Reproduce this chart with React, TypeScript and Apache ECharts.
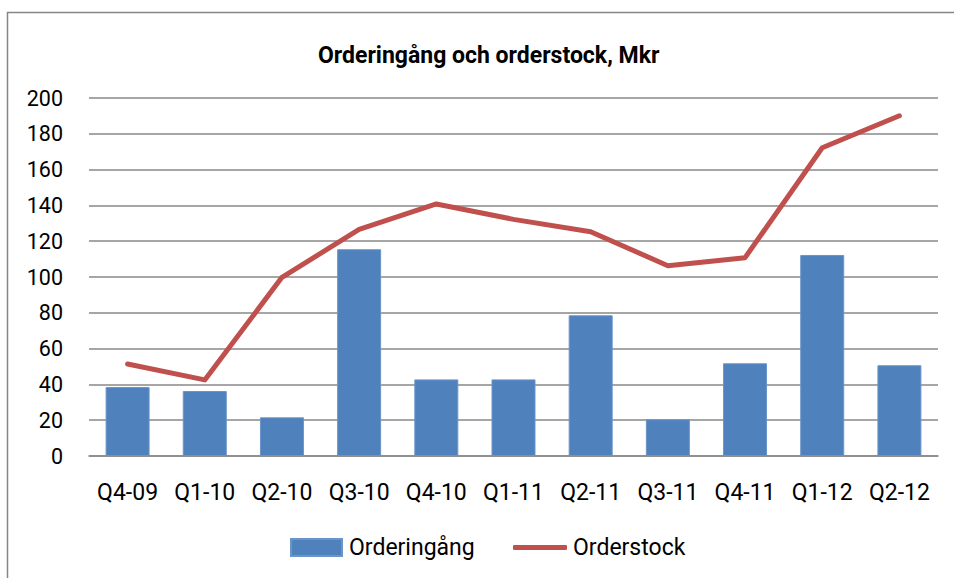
import React, { useEffect, useRef } from "react";
import * as echarts from "echarts";

const categories = ["Q4-09", "Q1-10", "Q2-10", "Q3-10", "Q4-10", "Q1-11", "Q2-11", "Q3-11", "Q4-11", "Q1-12", "Q2-12"];
const orderingang = [38.5, 36.3, 21.6, 115.5, 42.8, 42.8, 78.6, 20.5, 51.8, 112.3, 50.7];
const orderstock = [51.4, 42.5, 99.8, 126.6, 140.8, 132.2, 125.3, 106.3, 110.8, 172.2, 190.1];
const yTicks = { min: 0, max: 200, interval: 20 };

const FONT = "Roboto, 'Open Sans', sans-serif";

export default function App() {
  const ref = useRef<HTMLDivElement>(null);
  useEffect(() => {
    if (!ref.current) return;
    const chart = echarts.init(ref.current, null, { renderer: "svg" });
    chart.setOption({
      animation: false,
      backgroundColor: "#ffffff",
      title: {
        text: "Orderingång och orderstock, Mkr",
        left: 318,
        top: 44,
        padding: 0,
        textStyle: { fontFamily: FONT, fontWeight: "bold", fontSize: 23, color: "#000" },
      },
      grid: { left: 89, right: 16, top: 98, bottom: 122, containLabel: false },
      xAxis: {
        type: "category",
        data: categories,
        axisTick: { show: false },
        axisLine: { lineStyle: { color: "#888", width: 1.5 } },
        axisLabel: { interval: 0, margin: 25, fontFamily: FONT, fontSize: 23, color: "#000" },
      },
      yAxis: {
        type: "value",
        min: yTicks.min,
        max: yTicks.max,
        interval: yTicks.interval,
        axisLine: { show: false },
        axisTick: { show: false },
        axisLabel: { margin: 26, fontFamily: FONT, fontSize: 21.5, color: "#000" },
        splitLine: { lineStyle: { color: "#888", width: 1.5 } },
      },
      legend: [
        {
          data: [{ name: "Orderingång", icon: "rect" }],
          left: 290,
          top: 536,
          padding: 0,
          itemWidth: 51,
          itemHeight: 17,
          itemGap: 7,
          textStyle: { fontFamily: FONT, fontSize: 23, color: "#000", padding: [0, 0, 0, 2] },
        },
        {
          data: [{ name: "Orderstock", icon: "roundRect", itemStyle: { color: "#C0504D" } }],
          left: 513,
          top: 536,
          padding: 0,
          itemWidth: 54,
          itemHeight: 5,
          textStyle: { fontFamily: FONT, fontSize: 23, color: "#000", padding: [0, 0, 0, 1] },
        },
      ],
      series: [
        {
          name: "Orderingång",
          type: "bar",
          data: orderingang,
          barCategoryGap: "43%",
          itemStyle: { color: "#4F81BD", borderColor: "#6A95C9", borderWidth: 1 },
        },
        {
          name: "Orderstock",
          type: "line",
          data: orderstock,
          symbol: "none",
          showSymbol: false,
          lineStyle: { color: "#C0504D", width: 5, cap: "round", join: "round" },
          itemStyle: { color: "#C0504D" },
        },
      ],
      graphic: [
        { type: "line", shape: { x1: 7.5, y1: 12, x2: 7.5, y2: 578 }, style: { stroke: "#868686", lineWidth: 1.5 } },
        { type: "line", shape: { x1: 7, y1: 12.5, x2: 954, y2: 12.5 }, style: { stroke: "#868686", lineWidth: 1.5 } },
      ],
    });
    return () => chart.dispose();
  }, []);
  return <div ref={ref} style={{ position: "fixed", left: 0, top: 0, width: 954, height: 578 }} />;
}
